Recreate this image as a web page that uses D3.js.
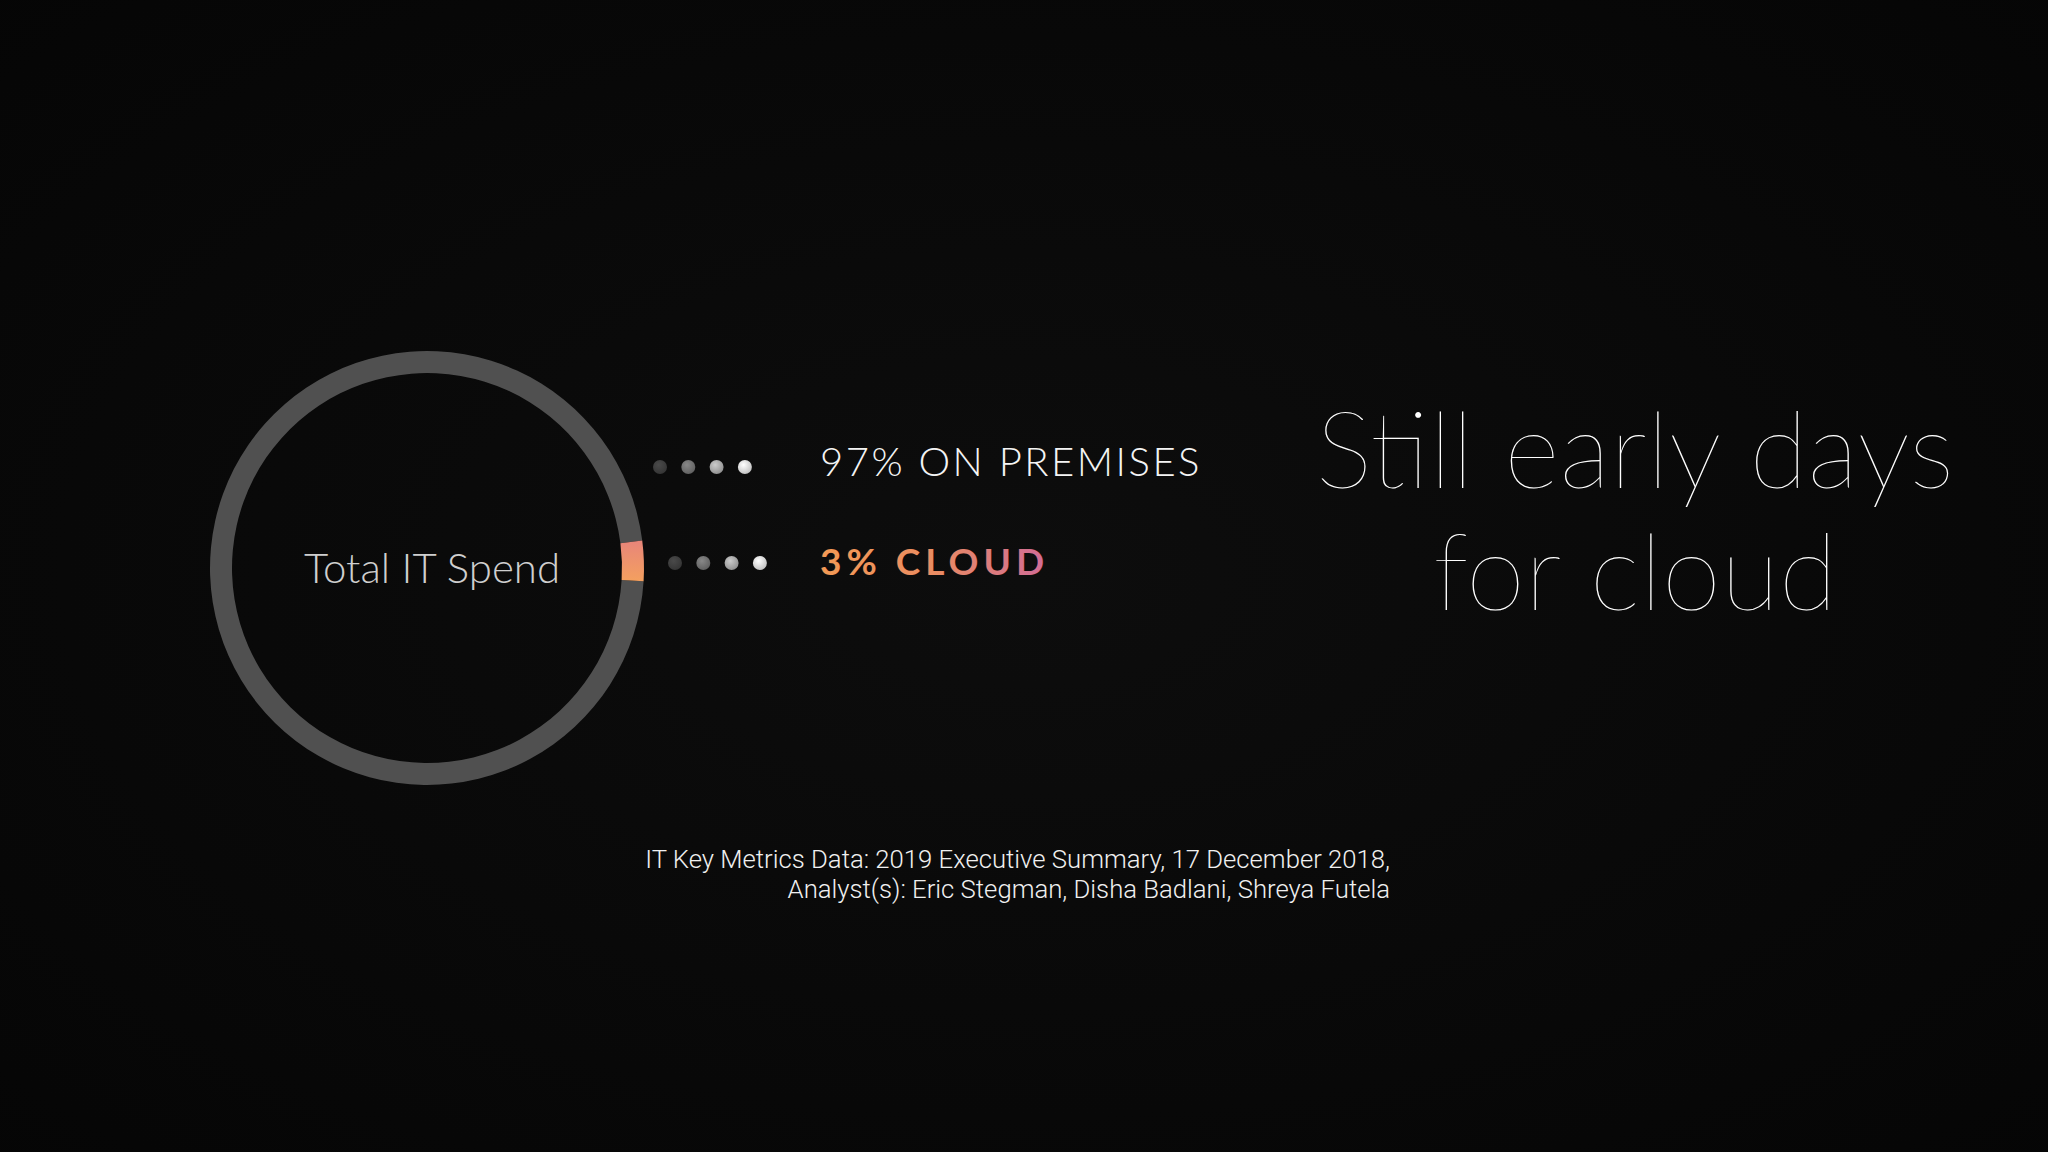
<!DOCTYPE html>
<html>
<head>
<meta charset="utf-8">
<script src="https://cdn.jsdelivr.net/npm/d3@7"></script>
<style>
  html, body { margin: 0; padding: 0; background: #060606; }
  svg { display: block; }
</style>
</head>
<body>
<svg id="chart" width="2048" height="1152"></svg>
<script>
// ---- data ----
const categories = ["ON PREMISES", "CLOUD"];
const values = [97, 3];
const labels = ["97% ON PREMISES", "3% CLOUD"];
const centerLabel = "Total IT Spend";
const titleLines = ["Still early days", "for cloud"];
const sourceLines = [
  "IT Key Metrics Data: 2019 Executive Summary, 17 December 2018,",
  "Analyst(s): Eric Stegman, Disha Badlani, Shreya Futela"
];
const dotShades = ["#3c3c3c", "#6e6e6e", "#a4a4a4", "#dcdcdc"];

// ---- drawing ----
const W = 2048, H = 1152;
const svg = d3.select("#chart");
const defs = svg.append("defs");

// background
const bg = defs.append("radialGradient").attr("id", "bg").attr("cx", "50%").attr("cy", "50%").attr("r", "75%");
bg.append("stop").attr("offset", "0%").attr("stop-color", "#0d0d0d");
bg.append("stop").attr("offset", "100%").attr("stop-color", "#050505");
svg.append("rect").attr("width", W).attr("height", H).attr("fill", "url(#bg)");

// gradients
const cloudGrad = defs.append("linearGradient").attr("id", "cloudSeg")
  .attr("x1", "0").attr("y1", "0").attr("x2", "0").attr("y2", "1");
cloudGrad.append("stop").attr("offset", "0%").attr("stop-color", "#e8857a");
cloudGrad.append("stop").attr("offset", "100%").attr("stop-color", "#f4a05f");

const textGrad = defs.append("linearGradient").attr("id", "cloudText")
  .attr("x1", "0").attr("y1", "0").attr("x2", "1").attr("y2", "0");
textGrad.append("stop").attr("offset", "0%").attr("stop-color", "#f39a55");
textGrad.append("stop").attr("offset", "50%").attr("stop-color", "#ea8c62");
textGrad.append("stop").attr("offset", "100%").attr("stop-color", "#d06b98");

dotShades.forEach((c, i) => {
  const g = defs.append("radialGradient").attr("id", "dot" + i)
    .attr("cx", "40%").attr("cy", "35%").attr("r", "70%");
  g.append("stop").attr("offset", "0%").attr("stop-color", d3.color(c).brighter(0.6));
  g.append("stop").attr("offset", "100%").attr("stop-color", d3.color(c).darker(0.4));
});

// donut
const cx = 427, cy = 568;
const outerR = 217, innerR = 195;
const startA = 93.5 * Math.PI / 180;
const pie = d3.pie().sort(null).startAngle(startA).endAngle(startA + 2 * Math.PI);
const arc = d3.arc().innerRadius(innerR).outerRadius(outerR);
const arcs = pie(values);

const donut = svg.append("g").attr("transform", `translate(${cx},${cy})`);
donut.selectAll("path").data(arcs).join("path")
  .attr("d", arc)
  .attr("fill", (d, i) => i === 0 ? "#505050" : "url(#cloudSeg)");

donut.append("text")
  .attr("x", 5).attr("y", 15)
  .attr("text-anchor", "middle")
  .attr("font-family", "Lato, 'Open Sans', sans-serif")
  .attr("font-weight", 300)
  .attr("font-size", 42)
  .attr("fill", "#cfcfcf")
  .text(centerLabel);

// dots + labels
const rowY = d3.scaleOrdinal().domain(categories).range([467, 563]);
const dotStart = d3.scaleOrdinal().domain(categories).range([660, 675]);
const dotStep = 28.3;

categories.forEach((cat) => {
  svg.append("g").selectAll("circle").data(dotShades).join("circle")
    .attr("cx", (d, i) => dotStart(cat) + i * dotStep)
    .attr("cy", rowY(cat))
    .attr("r", 7)
    .attr("fill", (d, i) => `url(#dot${i})`);
});

svg.append("text")
  .attr("x", 820).attr("y", 476)
  .attr("font-family", "Lato, 'Open Sans', sans-serif")
  .attr("font-weight", 300)
  .attr("font-size", 40)
  .attr("letter-spacing", 2.5)
  .attr("fill", "#f4f4f4")
  .text(labels[0]);

svg.append("text")
  .attr("x", 820).attr("y", 575)
  .attr("font-family", "Lato, 'Open Sans', sans-serif")
  .attr("font-weight", 700)
  .attr("font-size", 37)
  .attr("letter-spacing", 5)
  .attr("fill", "url(#cloudText)")
  .text(labels[1]);

// title
const title = svg.append("text")
  .attr("text-anchor", "middle")
  .attr("font-family", "Lato, 'Open Sans', sans-serif")
  .attr("font-weight", 100)
  .attr("font-size", 107)
  .attr("fill", "#ffffff");
titleLines.forEach((t, i) => {
  title.append("tspan").attr("x", 1635).attr("y", 488 + i * 122).text(t);
});

// source
const src = svg.append("text")
  .attr("text-anchor", "end")
  .attr("font-family", "Roboto, 'Open Sans', sans-serif")
  .attr("font-weight", 300)
  .attr("font-size", 25.7)
  .attr("fill", "#f0f0f0");
sourceLines.forEach((t, i) => {
  src.append("tspan").attr("x", 1390).attr("y", 868 + i * 30).text(t);
});
</script>
</body>
</html>
